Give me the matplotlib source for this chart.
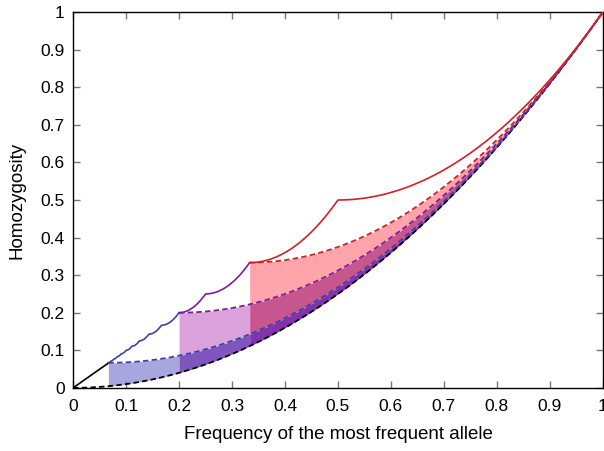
import numpy as np
import matplotlib
matplotlib.use("Agg")
import matplotlib.pyplot as plt

plt.rcParams['font.family'] = ['Liberation Sans', 'DejaVu Sans']

# Numbers of alleles whose regions are shaded (blue, purple, red)
K_values = [15, 5, 3]
line_colors = ["#3a44a8", "#7a1e9a", "#d02224"]
# fill colours: single regions and their overlaps
col_blue = "#a8a6de"
col_plum = "#dca2dc"
col_pink = "#ffa4aa"
col_blue_plum = "#7e56be"
col_plum_pink = "#c8568e"
col_all = "#8232aa"
x_ticks = [0, 0.1, 0.2, 0.3, 0.4, 0.5, 0.6, 0.7, 0.8, 0.9, 1]
y_ticks = [0, 0.1, 0.2, 0.3, 0.4, 0.5, 0.6, 0.7, 0.8, 0.9, 1]
x_label = "Frequency of the most frequent allele"
y_label = "Homozygosity"


def h_max(M):
    M = np.asarray(M, dtype=float)
    i = np.floor(1.0 / M)
    return i * M**2 + (1 - i * M) ** 2


def h_min(M, K):
    return M**2 + (1 - M) ** 2 / (K - 1)


fig = plt.figure(figsize=(6.04, 4.51), dpi=100)
ax = fig.add_axes([0.121, 0.140, 0.877, 0.833])

Kb, Kp, Kr = K_values
def band(a0, b0, lo, hi, color):
    M = np.linspace(a0, b0, 500)
    ax.fill_between(M, lo(M), hi(M), color=color, lw=0)

sq = lambda M: M**2
Lb = lambda M: h_min(M, Kb)
Lp = lambda M: h_min(M, Kp)
Lr = lambda M: h_min(M, Kr)
# bottom band (M^2 to L_b)
band(1.0 / Kb, 1.0 / Kp, sq, Lb, col_blue)
band(1.0 / Kp, 1.0 / Kr, sq, Lb, col_blue_plum)
band(1.0 / Kr, 1.0, sq, Lb, col_all)
# middle band (L_b to L_p)
band(1.0 / Kp, 1.0 / Kr, Lb, Lp, col_plum)
band(1.0 / Kr, 1.0, Lb, Lp, col_plum_pink)
# top band (L_p to L_r)
band(1.0 / Kr, 1.0, Lp, Lr, col_pink)

# lower dashed bounds
dash = (0, (3.0, 1.8))
M = np.linspace(0, 1, 800)
ax.plot(M, M**2, color="black", lw=1.3, ls=dash, zorder=3)
for K, c in zip(K_values, line_colors):
    M = np.linspace(1.0 / K, 1, 600)
    ax.plot(M, h_min(M, K), color=c, lw=1.3, ls=dash, zorder=4)

# upper solid bound
M0 = np.linspace(1e-4, 1.0 / Kb, 400)
ax.plot(M0, h_max(M0), color="black", lw=1.2, zorder=5)
segs = [(1.0 / Kb, 1.0 / Kp, line_colors[0]),
        (1.0 / Kp, 1.0 / Kr, line_colors[1]),
        (1.0 / Kr, 1.0, line_colors[2])]
inv = 1.0 / np.arange(1, 40)
for a0, b0, c in segs:
    M = np.linspace(a0, b0, 1500)
    M = np.unique(np.concatenate([M, inv[(inv >= a0) & (inv <= b0)]]))
    H = np.where(np.isclose(M, 1.0), 1.0, h_max(np.minimum(M, 1 - 1e-12)))
    ax.plot(M, H, color=c, lw=1.2, zorder=5)

ax.set_xlim(0, 1)
ax.set_ylim(0, 1)
ax.set_xticks(x_ticks)
ax.set_yticks(y_ticks)
ax.set_xticklabels([("%g" % v) for v in x_ticks])
ax.set_yticklabels([("%g" % v) for v in y_ticks])
ax.tick_params(direction="in", length=5, width=1, color="#777777", labelsize=12.5,
               top=True, right=True)
ax.tick_params(axis="x", pad=8)
ax.tick_params(axis="y", pad=6)
for s in ax.spines.values():
    s.set_linewidth(1.0)
    s.set_color("black")
ax.set_xlabel(x_label, fontsize=13.5, labelpad=9)
ax.set_ylabel(y_label, fontsize=13.5, labelpad=11)

fig.savefig("out.png", dpi=100)
